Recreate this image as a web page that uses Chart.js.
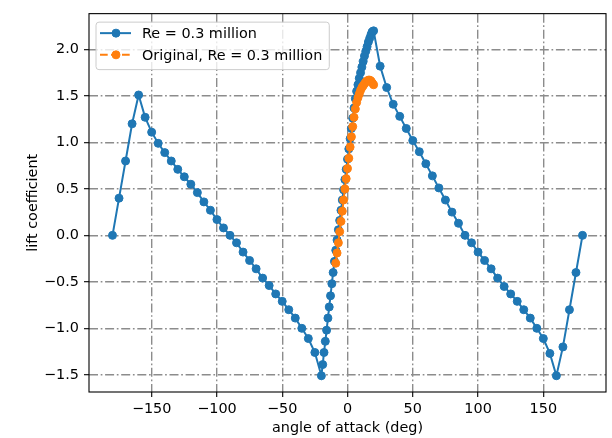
<!DOCTYPE html>
<html>
<head>
<meta charset="utf-8">
<script src="https://cdn.jsdelivr.net/npm/chart.js@4"></script>
<style>
  html, body { margin: 0; padding: 0; background: #fff; }
  #wrap { width: 612px; height: 438px; }
</style>
</head>
<body>
<div id="wrap"><canvas id="myChart" width="612" height="438"></canvas></div>
<script>
// Re = 0.3 million (extended polar, -180..180 deg)
const angleRe = [
  -180, -175, -170, -165, -160, -155, -150, -145, -140, -135, -130, -125, -120,
  -115, -110, -105, -100, -95, -90, -85, -80, -75, -70, -65, -60, -55, -50, -45,
  -40, -35, -30, -25, -20, -19, -18, -17, -16, -15, -14, -13, -12, -11, -10, -9,
  -8, -7, -6, -5, -4, -3, -2, -1, 0, 1, 2, 3, 4, 5, 6, 7, 8, 9, 10, 11, 12, 13,
  14, 15, 16, 17, 18, 19, 20, 25, 30, 35, 40, 45, 50, 55, 60, 65, 70, 75, 80,
  85, 90, 95, 100, 105, 110, 115, 120, 125, 130, 135, 140, 145, 150, 155, 160,
  165, 170, 175, 180,
];
const clRe = [
  0.0, 0.4, 0.8, 1.2, 1.51, 1.27, 1.11, 0.99, 0.89, 0.8, 0.71, 0.63, 0.55,
  0.46, 0.36, 0.27, 0.17, 0.08, 0.0, -0.08, -0.18, -0.27, -0.36, -0.46, -0.54, -0.63, -0.71, -0.8,
  -0.89, -1.0, -1.11, -1.26, -1.51, -1.39, -1.26, -1.14, -1.02, -0.89, -0.77, -0.65, -0.52, -0.4, -0.28, -0.16,
  -0.05, 0.06, 0.16, 0.27, 0.38, 0.49, 0.6, 0.71, 0.82, 0.93, 1.04, 1.15, 1.26, 1.37, 1.47, 1.55, 1.62, 1.69, 1.75, 1.81, 1.87, 1.93,
  1.98, 2.03, 2.08, 2.12, 2.16, 2.19, 2.2, 1.82, 1.59, 1.41, 1.28, 1.15, 1.02, 0.9, 0.77, 0.64, 0.51, 0.38, 0.25,
  0.13, 0.0, -0.08, -0.18, -0.27, -0.36, -0.46, -0.55, -0.63, -0.71, -0.8, -0.89, -1.0, -1.11, -1.27, -1.51,
  -1.2, -0.8, -0.4, 0.0,
];

// Original, Re = 0.3 million
const angleOrig = [
  -9, -8, -7, -6, -5, -4, -3, -2, -1, 0, 1, 2, 3, 4, 5, 6, 7, 8, 9, 10, 11, 12,
  13, 14, 15, 16, 17, 18, 19, 20,
];
const clOrig = [
  -0.3, -0.19, -0.08, 0.04, 0.15, 0.26, 0.38, 0.5, 0.61, 0.72, 0.83, 0.95, 1.06, 1.17, 1.27, 1.36, 1.43, 1.48, 1.52, 1.56, 1.59, 1.61,
  1.63, 1.65, 1.66, 1.67, 1.67, 1.66, 1.64, 1.62,
];

const xTicks = [-150, -100, -50, 0, 50, 100, 150];
const yTicks = [-1.5, -1.0, -0.5, 0.0, 0.5, 1.0, 1.5, 2.0];
const seriesNames = ["Re = 0.3 million", "Original, Re = 0.3 million"];

const FONT = "'DejaVu Sans', sans-serif";
const FS = 14.4;
const minus = (s) => String(s).replace("-", "\u2212");
const toPoints = (xs, ys) => xs.map((x, i) => ({ x: x, y: ys[i] }));

// top/right spines + matplotlib style legend
const mplExtras = {
  id: "mplExtras",
  afterDatasetsDraw(chart) {
    const { ctx, chartArea: a } = chart;
    ctx.save();
    ctx.strokeStyle = "#000";
    ctx.lineWidth = 1.1;
    ctx.strokeRect(a.left, a.top, a.right - a.left, a.bottom - a.top);
    ctx.restore();
  },
  afterDraw(chart) {
    const { ctx, chartArea: a } = chart;
    const ds = chart.data.datasets;
    ctx.save();
    ctx.font = FS + "px " + FONT;
    let tw = 0;
    ds.forEach((d) => (tw = Math.max(tw, ctx.measureText(d.label).width)));
    const lx = a.left + 7, ly = a.top + 8.5;
    const w = 46 + tw + 7, h = 47.5;
    ctx.beginPath();
    ctx.roundRect(lx, ly, w, h, 3);
    ctx.fillStyle = "rgba(255,255,255,0.8)";
    ctx.fill();
    ctx.strokeStyle = "#cccccc";
    ctx.lineWidth = 1;
    ctx.stroke();
    ds.forEach((d, i) => {
      const y = ly + 11 + i * 21.7;
      ctx.strokeStyle = d.borderColor;
      ctx.lineWidth = d.borderWidth;
      ctx.setLineDash(d.borderDash || []);
      ctx.beginPath();
      ctx.moveTo(lx + 4, y);
      ctx.lineTo(lx + 35, y);
      ctx.stroke();
      ctx.setLineDash([]);
      ctx.beginPath();
      ctx.arc(lx + 20, y, d.pointRadius, 0, Math.PI * 2);
      ctx.fillStyle = d.backgroundColor;
      ctx.fill();
      ctx.lineWidth = 1;
      ctx.stroke();
      ctx.fillStyle = "#000";
      ctx.textBaseline = "middle";
      ctx.textAlign = "left";
      ctx.fillText(d.label, lx + 46, y + 1);
    });
    ctx.restore();
  },
};

let chart1 = document.getElementById("myChart").getContext("2d");
const myChart = new Chart(chart1, {
  type: "line",
  data: {
    datasets: [
      {
        label: seriesNames[0],
        data: toPoints(angleRe, clRe),
        borderColor: "#1f77b4",
        backgroundColor: "#1f77b4",
        borderWidth: 2,
        pointRadius: 4,
        pointBorderWidth: 1,
        tension: 0,
        order: 1,
      },
      {
        label: seriesNames[1],
        data: toPoints(angleOrig, clOrig),
        borderColor: "#ff7f0e",
        backgroundColor: "#ff7f0e",
        borderWidth: 2,
        borderDash: [7.7, 3.3],
        pointRadius: 4,
        pointBorderWidth: 1,
        tension: 0,
        order: 0,
      },
    ],
  },
  options: {
    responsive: false,
    animation: false,
    devicePixelRatio: 1,
    layout: { padding: { top: 5, right: 6, bottom: 0, left: 0 } },
    plugins: {
      legend: { display: false },
      tooltip: { enabled: false },
    },
    scales: {
      x: {
        type: "linear",
        min: -198,
        max: 198,
        afterBuildTicks: (scale) => {
          scale.ticks = xTicks.map((v) => ({ value: v }));
        },
        afterFit: (scale) => {
          scale.height = 46;
        },
        ticks: {
          color: "#000",
          font: { family: FONT, size: FS },
          padding: 4,
          maxRotation: 0,
          callback: (v) => minus(v),
        },
        grid: {
          color: "#8c8c8c",
          lineWidth: 1.4,
          tickColor: "#000",
          tickLength: 5,
          tickWidth: 1.1,
        },
        border: { display: false, dash: [9, 2.7, 1.7, 2.7] },
        title: {
          display: true,
          text: "angle of attack (deg)",
          color: "#000",
          font: { family: FONT, size: FS },
          padding: { top: 0, bottom: 1 },
        },
      },
      y: {
        type: "linear",
        min: -1.685,
        max: 2.385,
        afterBuildTicks: (scale) => {
          scale.ticks = yTicks.map((v) => ({ value: v }));
        },
        afterFit: (scale) => {
          scale.width = 89;
        },
        ticks: {
          color: "#000",
          font: { family: FONT, size: FS },
          padding: 5,
          callback: (v) => minus(v.toFixed(1)),
        },
        grid: {
          color: "#8c8c8c",
          lineWidth: 1.4,
          tickColor: "#000",
          tickLength: 5,
          tickWidth: 1.1,
        },
        border: { display: false, dash: [9, 2.7, 1.7, 2.7] },
        title: {
          display: true,
          text: "lift coefficient",
          color: "#000",
          font: { family: FONT, size: FS },
          padding: { top: 25, bottom: 0 },
        },
      },
    },
  },
  plugins: [mplExtras],
});
</script>
</body>
</html>
